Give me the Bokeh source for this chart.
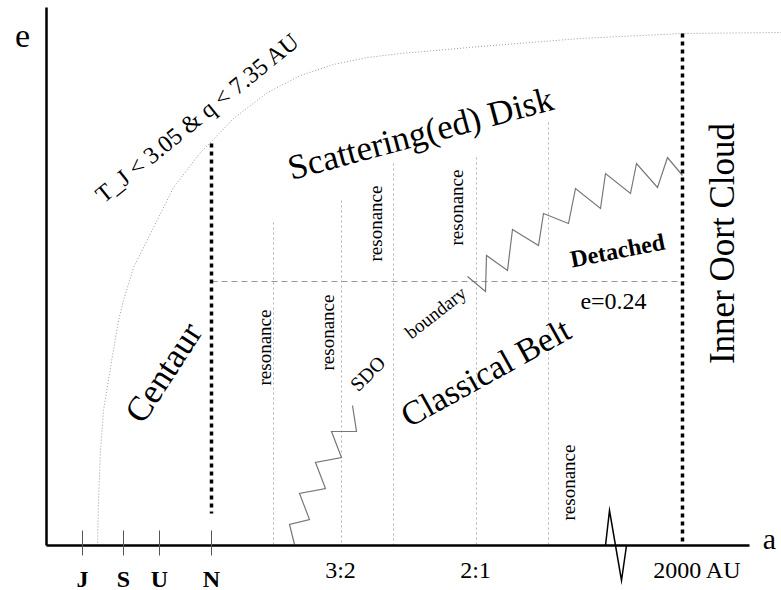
import math
from bokeh.plotting import figure
from bokeh.models import Range1d
from bokeh.core.properties import value
from bokeh.embed import file_html
from bokeh.resources import INLINE

# ---- schematic data (screen-like units: x to the right, y downward) ----
# planet ticks on the a-axis
planet_x = [82, 123, 159, 211]
planet_labels = ["J", "S", "U", "N"]
# other a-axis labels (no tick marks)
axis_label_x = [340, 475, 697]
axis_labels = ["3:2", "2:1", "2000 AU"]

# T_J < 3.05 & q < 7.35 AU boundary (dotted curve)
curve_x = [97, 98, 100, 103, 110, 118, 123, 133, 150, 173, 200, 212, 233, 267, 300, 333, 367, 400, 480, 580, 682, 781]
curve_y = [545, 500, 450, 410, 367, 320, 300, 267, 233, 187, 152, 140, 118, 92, 75, 64, 57, 53, 46, 38, 33, 32]

# resonance lines (thin dotted)
res_x = [273, 341, 393, 476, 548]
res_top = [222, 200, 163, 157, 122]
res_label_x = [264, 327, 375, 456, 568]
res_label_y = [347, 332, 223, 207, 482]

# e = 0.24 level
e24_y = 281
# Neptune line and Inner Oort Cloud line (thick dotted)
nep_x, nep_top, nep_bot = 211, 143, 513
oort_x, oort_top = 682, 33

# SDO boundary zigzag (lower)
sdo_x = [294, 289, 309, 299, 325, 315, 341, 331, 356, 352]
sdo_y = [544, 524, 519, 493, 488, 462, 457, 431, 431, 405]
# detached boundary zigzag (upper)
det_x = [467, 485, 486, 507, 512, 538, 543, 568, 575, 600, 605, 630, 636, 657, 667, 682]
det_y = [276, 291, 255, 270, 229, 245, 213, 223, 188, 208, 173, 193, 163, 187, 157, 175]

# axis break
brk_x = [605, 609, 621, 626]
brk_y = [545, 510, 580, 545]

# axes
origin_x, origin_y = 46, 545
yaxis_top = 7
xaxis_end = 749

# region labels: text, x, y, angle(deg), size(px), style
labels = [
    ("e", 22, 35, 0, 34, "normal"),
    ("a", 769, 538, 0, 30, "normal"),
    ("T_J < 3.05 & q < 7.35 AU", 197, 117, 39, 24, "normal"),
    ("Scattering(ed) Disk", 420, 133, 15, 35, "normal"),
    ("Centaur", 163, 372, 57, 35, "normal"),
    ("Classical Belt", 485, 372, 29, 34, "normal"),
    ("Inner Oort Cloud", 722, 243, 90, 35, "normal"),
    ("Detached", 617, 250, 11, 24, "bold"),
    ("e=0.24", 613, 300, 0, 24, "normal"),
    ("SDO", 367, 373, 45, 20, "normal"),
    ("boundary", 435, 312, 38, 19, "normal"),
]

W, H = 781, 590
FONT = value("Liberation Serif")


def Y(v):
    if isinstance(v, (list, tuple)):
        return [H - t for t in v]
    return H - v


p = figure(width=W, height=H, x_range=Range1d(0, W), y_range=Range1d(0, H),
           output_backend="svg", toolbar_location=None, min_border=0)
p.axis.visible = False
p.grid.visible = False
p.outline_line_color = None
p.background_fill_color = "white"
p.border_fill_color = "white"

# dotted curve
p.line(curve_x, Y(curve_y), line_color="#999999", line_width=1, line_dash="1 2")

# resonance lines
p.segment(x0=res_x, y0=Y(res_top), x1=res_x, y1=[Y(origin_y)] * len(res_x),
          line_color="#b0b0b0", line_width=1, line_dash="2 3")

# e=0.24 dashed line
p.segment(x0=[nep_x], y0=[Y(e24_y)], x1=[oort_x], y1=[Y(e24_y)],
          line_color="#999999", line_width=1, line_dash="6 4")

# zigzags
p.line(sdo_x, Y(sdo_y), line_color="#777777", line_width=1.2, line_join="miter")
p.line(det_x, Y(det_y), line_color="#777777", line_width=1.2, line_join="miter")

# thick dotted lines
p.segment(x0=[nep_x, oort_x], y0=[Y(nep_top), Y(oort_top)], x1=[nep_x, oort_x], y1=[Y(nep_bot), Y(origin_y)],
          line_color="black", line_width=3.5, line_dash="4 4")

# axes
p.segment(x0=[origin_x, origin_x], y0=[Y(origin_y), Y(origin_y)], x1=[origin_x, xaxis_end], y1=[Y(yaxis_top), Y(origin_y)],
          line_color="black", line_width=2.5)

# planet ticks
p.segment(x0=planet_x, y0=[Y(530)] * 4, x1=planet_x, y1=[Y(555)] * 4, line_color="#555555", line_width=1)

# axis break
p.line(brk_x, Y(brk_y), line_color="black", line_width=1.5, line_join="miter")

# tick labels
p.text(x=planet_x, y=[Y(578)] * 4, text=planet_labels, text_font=FONT, text_font_size="24px",
       text_font_style="bold", text_align="center", text_baseline="middle", text_color="black")
p.text(x=axis_label_x, y=[Y(569)] * 3, text=axis_labels, text_font=FONT, text_font_size="24px",
       text_align="center", text_baseline="middle", text_color="black")

# resonance labels
p.text(x=res_label_x, y=Y(res_label_y), text=["resonance"] * 5, angle=math.pi / 2, text_font=FONT,
       text_font_size="19px", text_align="center", text_baseline="middle", text_color="black")

for t, x, y, ang, size, style in labels:
    p.text(x=[x], y=[Y(y)], text=[t], angle=math.radians(ang), text_font=FONT,
           text_font_size=f"{size}px", text_font_style=style, text_align="center",
           text_baseline="middle", text_color="black")

open("out.html", "w").write(file_html(p, INLINE))
